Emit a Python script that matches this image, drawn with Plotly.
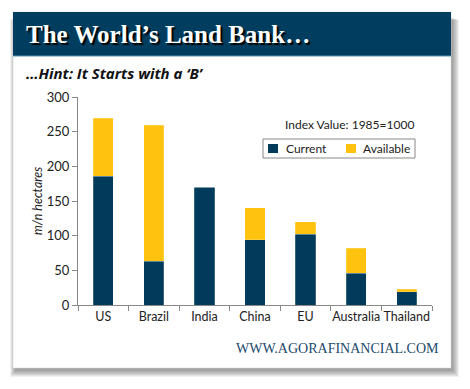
import plotly.graph_objects as go

categories = ["US", "Brazil", "India", "China", "EU", "Australia", "Thailand"]
current = [186, 63, 170, 94, 102, 46, 19]
available = [83, 196, 0, 46, 18, 36, 4]
y_ticks = [0, 50, 100, 150, 200, 250, 300]
series_names = ["Current", "Available"]

W, H = 470, 389
ML, MR, MT, MB = 78, 38, 97, 84
PW, PH = W - ML - MR, H - MT - MB

def px(x):
    return (x - ML) / PW

def py(y):
    return (H - MB - y) / PH

BLUE = "#003B5C"
YELLOW = "#FFC20E"
colors = [BLUE, YELLOW]

fig = go.Figure()
for name, vals, col in zip(series_names, [current, available], colors):
    fig.add_trace(go.Bar(x=categories, y=vals, name=name, marker_color=col,
                         marker_line=dict(width=0.6, color="rgba(255,255,255,0.35)"),
                         showlegend=False, hoverinfo="skip"))

shapes = []
# shadow
for k in range(7):
    shapes.append(dict(type="rect", xref="paper", yref="paper",
                       x0=px(13 + 2 - k * 0.8), x1=px(451 + 2 + k),
                       y0=py(368 + 3 + k), y1=py(12 + 6 + k * 0.3),
                       fillcolor="rgba(0,0,0,0.06)", line_width=0, layer="below"))
# card
shapes.append(dict(type="rect", xref="paper", yref="paper",
                   x0=px(13), x1=px(451), y0=py(368), y1=py(12),
                   fillcolor="white", line=dict(color="#d0d0d0", width=0.5), layer="below"))
# header
shapes.append(dict(type="rect", xref="paper", yref="paper",
                   x0=px(13), x1=px(451), y0=py(56), y1=py(12),
                   fillcolor="#013D5E", line_width=0, layer="below"))
shapes.append(dict(type="line", xref="paper", yref="paper",
                   x0=px(13), x1=px(451), y0=py(56), y1=py(56),
                   line=dict(color="#5B93AE", width=1), layer="below"))

# manual legend
shapes.append(dict(type="rect", xref="paper", yref="paper",
                   x0=px(263), x1=px(415), y0=py(158), y1=py(139),
                   fillcolor="white", line=dict(color="#888", width=1)))
legend_items = [(268, 285), (346, 362)]
annotations = []
for (sx, tx), name, col in zip(legend_items, series_names, colors):
    shapes.append(dict(type="rect", xref="paper", yref="paper",
                       x0=px(sx), x1=px(sx + 10), y0=py(153), y1=py(144),
                       fillcolor=col, line_width=0))
    annotations.append(dict(text=name, xref="paper", yref="paper",
                            x=px(tx - 1), y=py(148.5), xanchor="left", yanchor="middle",
                            showarrow=False,
                            font=dict(family="Lato", size=12, color="#222")))

annotations += [
    dict(text="<b>The World’s Land Bank…</b>", xref="paper", yref="paper",
         x=px(24), y=py(35), xanchor="left", yanchor="middle", showarrow=False,
         font=dict(family="Liberation Serif", size=25, color="white",
                   shadow="2px 2px 1px #000")),
    dict(text="<b><i>…Hint: It Starts with a ‘B’</i></b>", xref="paper", yref="paper",
         x=px(24), y=py(73), xanchor="left", yanchor="middle", showarrow=False,
         font=dict(family="Open Sans", size=15, color="#111")),
    dict(text="Index Value: 1985=1000", xref="paper", yref="paper",
         x=px(416), y=py(124), xanchor="right", yanchor="middle", showarrow=False,
         font=dict(family="Lato", size=12, color="#222")),
    dict(text="WWW.AGORAFINANCIAL.COM", xref="paper", yref="paper",
         x=px(441), y=py(348), xanchor="right", yanchor="middle", showarrow=False,
         font=dict(family="Liberation Serif", size=14, color="#1B4A6B")),
    dict(text="<i>m/n hectares</i>", xref="paper", yref="paper",
         x=px(37), y=py(201), xanchor="center", yanchor="middle", showarrow=False,
         textangle=-90, font=dict(family="Lato", size=12.5, color="#222")),
]

fig.update_layout(
    width=W, height=H,
    margin=dict(l=ML, r=MR, t=MT, b=MB, pad=0),
    barmode="stack", bargap=0.6,
    paper_bgcolor="white", plot_bgcolor="rgba(0,0,0,0)",
    font=dict(family="Lato", size=13, color="#222"),
    shapes=shapes, annotations=annotations,
    showlegend=False,
    xaxis=dict(showline=True, linecolor="#888", linewidth=1, ticks="outside",
               tickson="boundaries", ticklen=5, tickcolor="#888", tickangle=0,
               automargin=False,
               tickfont=dict(family="Lato", size=12.5, color="#222"), showgrid=False),
    yaxis=dict(range=[0, 300], tickvals=y_ticks, showline=True, linecolor="#888",
               linewidth=1, ticks="outside", ticklen=5, tickcolor="#888",
               automargin=False,
               tickfont=dict(family="Lato", size=13, color="#222"),
               showgrid=False, zeroline=False),
)

fig.write_html("out.html", config={"displayModeBar": False},
               post_script="document.body.style.margin='0px';document.body.style.overflow='hidden';")
